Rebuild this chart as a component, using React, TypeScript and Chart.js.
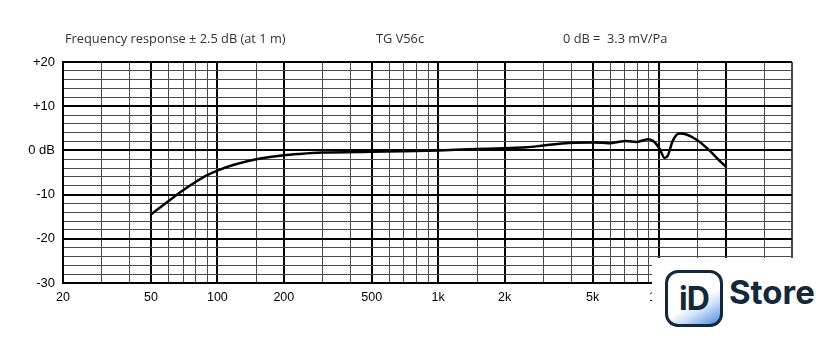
import React, { useEffect, useRef } from "react";
import { Chart, registerables } from "chart.js";

Chart.register(...registerables);

// Response curve (Hz, dB)
const freqHz = [50, 55, 61, 70, 80, 90, 102, 120, 150, 200, 236, 300, 500, 700, 1000, 1500, 2000, 2500, 3000, 3900, 5000, 5550, 6000, 6500, 7100, 7900, 8500, 8900, 9350, 9800, 10100, 10600, 10950, 11500, 12000, 12400, 13300, 14800, 16900, 18500, 20200];
const levelDb = [-14.5, -12.9, -11.2, -9.0, -7.1, -5.6, -4.4, -3.2, -2.0, -1.1, -0.8, -0.5, -0.3, -0.2, 0, 0.3, 0.5, 0.7, 1.1, 1.7, 1.8, 1.75, 1.6, 1.9, 2.1, 1.9, 2.3, 2.5, 2.2, 1.2, 0.2, -1.7, -1.2, 2.0, 3.5, 3.8, 3.6, 2.4, 0, -2.0, -3.8];

// Axis grid values & labels
const xGridValues = [20, 30, 40, 50, 60, 70, 80, 90, 100, 150, 200, 300, 400, 500, 600, 700, 800, 900, 1000, 1500, 2000, 3000, 4000, 5000, 6000, 7000, 8000, 9000, 10000, 15000, 20000, 30000, 40000];
const xLabelValues = [20, 50, 100, 200, 500, 1000, 2000, 5000, 10000, 20000];
const xLabelTexts = ["20", "50", "100", "200", "500", "1k", "2k", "5k", "10k", "20k"];
const yLabelValues = [20, 10, 0, -10, -20, -30];
const yLabelTexts = ["+20", "+10", "0 dB", "-10", "-20", "-30"];

const headerTexts = ["Frequency response \u00b1 2.5 dB (at 1 m)", "TG V56c", "0 dB =  3.3 mV/Pa"];

export default function App() {
  const ref = useRef<HTMLCanvasElement | null>(null);

  useEffect(() => {
    if (!ref.current) return;
    const chart = new Chart(ref.current, {
      type: "line",
      data: {
        datasets: [
          {
            data: freqHz.map((f, i) => ({ x: f, y: levelDb[i] })),
            borderColor: "#000",
            borderWidth: 2.5,
            pointRadius: 0,
            cubicInterpolationMode: "monotone",
            fill: false,
          },
        ],
      },
      options: {
        animation: false,
        responsive: false,
        maintainAspectRatio: false,
        layout: { padding: { top: 62, right: 48, bottom: 0, left: 0 } },
        plugins: { legend: { display: false }, tooltip: { enabled: false } },
        scales: {
          x: {
            type: "logarithmic",
            min: 20,
            max: 40000,
            afterBuildTicks: (scale: any) => {
              scale.ticks = xGridValues.map((v) => ({ value: v }));
            },
            afterFit: (scale: any) => {
              scale.height = 57;
            },
            ticks: {
              autoSkip: false,
              maxRotation: 0,
              padding: 7,
              color: "#000",
              font: { family: "'Liberation Sans', Arial, sans-serif", size: 12.5 },
              callback: (value: any) => {
                const i = xLabelValues.indexOf(Number(value));
                return i >= 0 ? xLabelTexts[i] : "";
              },
            },
            grid: {
              drawTicks: false,
              color: (ctx: any) => (ctx.tick && xLabelValues.includes(ctx.tick.value) ? "#000" : "#4a4a4a"),
              lineWidth: (ctx: any) => (ctx.tick && (xLabelValues.includes(ctx.tick.value) || ctx.tick.value === 40000) ? 2 : 1),
            },
            border: { display: true, color: "#000", width: 2 },
          },
          y: {
            type: "linear",
            min: -30,
            max: 20,
            afterBuildTicks: (scale: any) => {
              const t = [];
              for (let v = -30; v <= 20; v += 2) t.push({ value: v });
              scale.ticks = t;
            },
            afterFit: (scale: any) => {
              scale.width = 63;
            },
            ticks: {
              autoSkip: false,
              padding: 8,
              color: "#000",
              font: { family: "'Liberation Sans', Arial, sans-serif", size: 13 },
              callback: (value: any) => {
                const i = yLabelValues.indexOf(Number(value));
                return i >= 0 ? yLabelTexts[i] : "";
              },
            },
            grid: {
              drawTicks: false,
              color: (ctx: any) => (ctx.tick && ctx.tick.value % 10 === 0 ? "#000" : "#4a4a4a"),
              lineWidth: (ctx: any) => (ctx.tick && ctx.tick.value % 10 === 0 ? 2 : 1),
            },
            border: { display: true, color: "#000", width: 2 },
          },
        },
      },
    } as any);
    return () => chart.destroy();
  }, []);

  const headerStyle: React.CSSProperties = {
    position: "absolute",
    top: 29,
    fontFamily: "'Open Sans', sans-serif",
    fontSize: 12.8,
    color: "#333",
    whiteSpace: "pre",
    lineHeight: "18px",
  };

  return (
    <div style={{ position: "absolute", left: 0, top: 0, width: 840, height: 340, background: "#fff", overflow: "hidden" }}>
      <canvas ref={ref} width={840} height={340} style={{ position: "absolute", left: 0, top: 0 }} />
      <div style={{ ...headerStyle, left: 65 }}>{headerTexts[0]}</div>
      <div style={{ ...headerStyle, left: 376 }}>{headerTexts[1]}</div>
      <div style={{ ...headerStyle, left: 563 }}>{headerTexts[2]}</div>
      {/* watermark */}
      <div style={{ position: "absolute", left: 652, top: 258, width: 188, height: 82, background: "#fff" }} />
      <div
        style={{
          position: "absolute",
          left: 665,
          top: 270,
          width: 52,
          height: 51,
          border: "3px solid #13283a",
          borderRadius: 13,
          background: "linear-gradient(150deg, #ffffff 0%, #ffffff 55%, #cfe0f7 70%, #4a8ee6 100%)",
          display: "flex",
          alignItems: "center",
          justifyContent: "center",
          fontFamily: "Inter, sans-serif",
          fontWeight: 700,
          fontSize: 32,
          color: "#13283a",
          letterSpacing: -1,
        }}
      >
        iD
      </div>
      <div
        style={{
          position: "absolute",
          left: 729,
          top: 272,
          fontFamily: "Inter, sans-serif",
          fontWeight: 700,
          fontSize: 33,
          color: "#13283a",
          lineHeight: "40px",
        }}
      >
        Store
      </div>
    </div>
  );
}
